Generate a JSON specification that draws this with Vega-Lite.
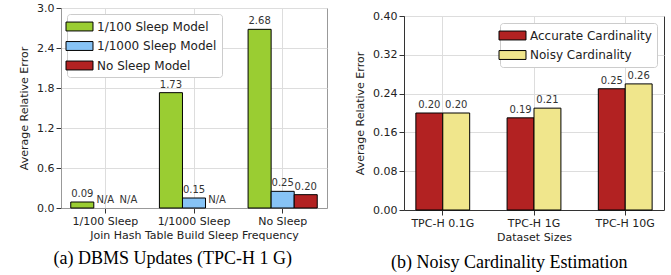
{
  "$schema": "https://vega.github.io/schema/vega-lite/v6.json",
  "padding": {"left": 18, "top": 1, "right": 3, "bottom": 5},
  "background": "white",
  "spacing": 26,
  "config": {
    "font": "DejaVu Sans",
    "axis": {"labelFontSize": 11, "titleFontSize": 11, "labelColor": "#222", "titleColor": "#222", "titleFontWeight": "normal", "gridColor": "#dddddd", "tickSize": 5, "tickColor": "#333", "labelPadding": 2, "titlePadding": 7},
    "legend": {"labelFontSize": 12, "labelColor": "#222", "fillColor": "white", "strokeColor": "#cccccc", "padding": 5, "cornerRadius": 3, "symbolType": "M-2,-0.66H2V0.66H-2Z", "symbolSize": 182, "symbolStrokeColor": "black", "symbolStrokeWidth": 1, "symbolOpacity": 1, "labelOffset": 10, "rowPadding": 5.5}
  },
  "hconcat": [
    {
      "width": 266,
      "height": 200,
      "view": {"stroke": "#999"},
      "title": {"text": "(a) DBMS Updates (TPC-H 1 G)", "orient": "bottom", "font": "Liberation Serif", "fontSize": 18, "fontWeight": "normal", "frame": "bounds", "anchor": "middle", "offset": 10, "color": "black"},
      "data": {"values": [
        {"group": "1/100 Sleep", "model": "1/100 Sleep Model", "value": 0.09, "label": "0.09"},
        {"group": "1/100 Sleep", "model": "1/1000 Sleep Model", "value": 0, "label": "N/A"},
        {"group": "1/100 Sleep", "model": "No Sleep Model", "value": 0, "label": "N/A"},
        {"group": "1/1000 Sleep", "model": "1/100 Sleep Model", "value": 1.73, "label": "1.73"},
        {"group": "1/1000 Sleep", "model": "1/1000 Sleep Model", "value": 0.15, "label": "0.15"},
        {"group": "1/1000 Sleep", "model": "No Sleep Model", "value": 0, "label": "N/A"},
        {"group": "No Sleep", "model": "1/100 Sleep Model", "value": 2.68, "label": "2.68"},
        {"group": "No Sleep", "model": "1/1000 Sleep Model", "value": 0.25, "label": "0.25"},
        {"group": "No Sleep", "model": "No Sleep Model", "value": 0.20, "label": "0.20"}
      ]},
      "encoding": {
        "x": {"field": "group", "type": "nominal", "sort": null, "scale": {"paddingInner": 0.22, "paddingOuter": 0.11}, "axis": {"title": "Join Hash Table Build Sleep Frequency", "titlePadding": 3, "labelAngle": 0, "grid": true, "bandPosition": 0.5, "domainColor": "#999"}},
        "xOffset": {"field": "model", "type": "nominal", "sort": null, "scale": {"paddingInner": 0, "paddingOuter": 0}},
        "y": {"field": "value", "type": "quantitative", "scale": {"domain": [0, 3]}, "axis": {"title": "Average Relative Error", "values": [0, 0.6, 1.2, 1.8, 2.4, 3.0], "format": ".1f", "grid": true, "domainColor": "#999"}}
      },
      "layer": [
        {
          "mark": {"type": "bar", "stroke": "black", "strokeWidth": 1},
          "encoding": {
            "color": {"field": "model", "type": "nominal", "sort": null, "scale": {"range": ["#9acd32", "#87c3f5", "#b22222"]}, "legend": {"title": null, "orient": "top-left", "offset": 6}},
            "strokeOpacity": {"condition": {"test": "datum.label == 'N/A'", "value": 0}, "value": 1}
          }
        },
        {
          "mark": {"type": "text", "baseline": "bottom", "dy": -3, "fontSize": 10, "color": "#333"},
          "encoding": {"text": {"field": "label"}}
        }
      ]
    },
    {
      "vconcat": [
        {"width": 260, "height": 1, "view": {"stroke": null}, "data": {"values": []}, "mark": {"type": "point", "opacity": 0}},
        {
          "width": 260,
          "height": 194,
          "view": {"stroke": "#333"},
          "title": {"text": "(b) Noisy Cardinality Estimation", "orient": "bottom", "font": "Liberation Serif", "fontSize": 18, "fontWeight": "normal", "frame": "bounds", "anchor": "middle", "offset": 12, "color": "black"},
          "data": {"values": [
            {"size": "TPC-H 0.1G", "type": "Accurate Cardinality", "value": 0.20, "label": "0.20"},
            {"size": "TPC-H 0.1G", "type": "Noisy Cardinality", "value": 0.20, "label": "0.20"},
            {"size": "TPC-H 1G", "type": "Accurate Cardinality", "value": 0.19, "label": "0.19"},
            {"size": "TPC-H 1G", "type": "Noisy Cardinality", "value": 0.21, "label": "0.21"},
            {"size": "TPC-H 10G", "type": "Accurate Cardinality", "value": 0.25, "label": "0.25"},
            {"size": "TPC-H 10G", "type": "Noisy Cardinality", "value": 0.26, "label": "0.26"}
          ]},
          "encoding": {
            "x": {"field": "size", "type": "nominal", "sort": null, "scale": {"paddingInner": 0.41, "paddingOuter": 0.13}, "axis": {"title": "Dataset Sizes", "titlePadding": 3, "labelAngle": 0, "grid": true, "bandPosition": 0.5, "domainColor": "#333"}},
            "xOffset": {"field": "type", "type": "nominal", "sort": null, "scale": {"paddingInner": 0, "paddingOuter": 0}},
            "y": {"field": "value", "type": "quantitative", "scale": {"domain": [0, 0.4]}, "axis": {"title": "Average Relative Error", "values": [0, 0.08, 0.16, 0.24, 0.32, 0.40], "format": ".2f", "grid": true, "domainColor": "#333"}}
          },
          "layer": [
            {
              "mark": {"type": "bar", "stroke": "black", "strokeWidth": 1},
              "encoding": {
                "color": {"field": "type", "type": "nominal", "sort": null, "scale": {"range": ["#b22222", "#f0e68c"]}, "legend": {"title": null, "orient": "top-right", "offset": 7}}
              }
            },
            {
              "mark": {"type": "text", "baseline": "bottom", "dy": -3, "fontSize": 10, "color": "#333"},
              "encoding": {"text": {"field": "label"}}
            }
          ]
        }
      ],
      "spacing": 0,
      "resolve": {"scale": {"color": "independent", "x": "independent", "xOffset": "independent", "y": "independent"}, "legend": {"color": "independent"}}
    }
  ],
  "resolve": {"scale": {"color": "independent", "x": "independent", "xOffset": "independent", "y": "independent"}, "legend": {"color": "independent"}}
}
